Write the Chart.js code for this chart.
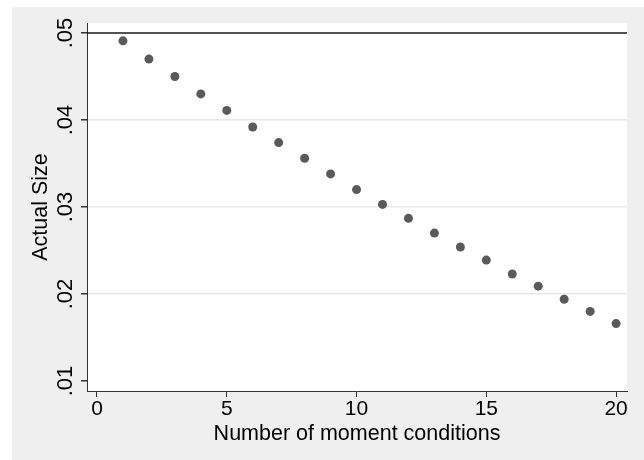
<!DOCTYPE html>
<html>
<head>
<meta charset="utf-8">
<script src="https://cdn.jsdelivr.net/npm/chart.js@4.4.1/dist/chart.umd.min.js"></script>
<style>
    html, body { margin: 0; padding: 0; background: #fff; }
    #wrap { width: 644px; height: 460px; }
</style>
</head>
<body>
<div id="wrap"><canvas id="sizeChart" width="644" height="460"></canvas></div>
<script>
// Number of moment conditions vs. actual size
const conditions = [1, 2, 3, 4, 5, 6, 7, 8, 9, 10, 11, 12, 13, 14, 15, 16, 17, 18, 19, 20];
const actualSize = [0.0491, 0.0470, 0.0450, 0.0430, 0.0411, 0.0392, 0.0374, 0.0356, 0.0338, 0.0320,
                    0.0303, 0.0287, 0.0270, 0.0254, 0.0239, 0.0223, 0.0209, 0.0194, 0.0180, 0.0166];
const xTicks = [0, 5, 10, 15, 20];
const yTicks = [0.01, 0.02, 0.03, 0.04, 0.05];
const yTickLabels = ['.01', '.02', '.03', '.04', '.05'];
const nominalSize = 0.05;

const FONT = '"Liberation Sans", Arial, Helvetica, sans-serif';

// Backgrounds: outer grey frame, white plot region
const backgroundPlugin = {
    id: 'stataBackground',
    beforeDraw(chart) {
        const { ctx, chartArea: a } = chart;
        ctx.save();
        ctx.fillStyle = '#ffffff';
        ctx.fillRect(0, 0, chart.width, chart.height);
        ctx.fillStyle = '#efefef';
        ctx.fillRect(12, 7, chart.width - 12, chart.height - 7);
        ctx.fillStyle = '#ffffff';
        ctx.fillRect(a.left, a.top, a.right - a.left, a.bottom - a.top);
        ctx.restore();
    }
};

// Reference line at the nominal size and the rotated y tick labels
const overlayPlugin = {
    id: 'stataOverlay',
    beforeDatasetsDraw(chart) {
        const { ctx, chartArea: a, scales: { y } } = chart;
        const py = y.getPixelForValue(nominalSize);
        ctx.save();
        ctx.strokeStyle = '#1a1a1a';
        ctx.lineWidth = 1.5;
        ctx.beginPath();
        ctx.moveTo(a.left, py);
        ctx.lineTo(a.right, py);
        ctx.stroke();
        ctx.restore();
    },
    afterDraw(chart) {
        const { ctx, scales: { y } } = chart;
        ctx.save();
        ctx.fillStyle = '#000';
        ctx.font = '22px ' + FONT;
        ctx.textAlign = 'center';
        ctx.textBaseline = 'middle';
        yTicks.forEach((v, i) => {
            ctx.save();
            ctx.translate(66, y.getPixelForValue(v));
            ctx.rotate(-Math.PI / 2);
            ctx.fillText(yTickLabels[i], 0, 0);
            ctx.restore();
        });
        ctx.restore();
    }
};

new Chart(document.getElementById('sizeChart'), {
    type: 'scatter',
    data: {
        datasets: [{
            data: conditions.map((c, i) => ({ x: c, y: actualSize[i] })),
            backgroundColor: '#5a5a5a',
            borderWidth: 0,
            pointRadius: 4.5,
            pointHoverRadius: 4.5
        }]
    },
    options: {
        responsive: false,
        animation: false,
        devicePixelRatio: 1,
        events: [],
        layout: { padding: { left: 0, top: 23, right: 17, bottom: 0 } },
        plugins: { legend: { display: false }, tooltip: { enabled: false } },
        scales: {
            x: {
                type: 'linear',
                min: -0.385,
                max: 20.42,
                afterBuildTicks: (s) => { s.ticks = xTicks.map(v => ({ value: v })); },
                afterFit: (s) => { s.height = 69; },
                grid: { drawOnChartArea: false, tickLength: 6, tickColor: '#333', tickWidth: 1 },
                border: { color: '#333', width: 1 },
                ticks: {
                    padding: 0,
                    color: '#000',
                    font: { family: FONT, size: 21 },
                    callback: (v) => String(v)
                },
                title: {
                    display: true,
                    text: 'Number of moment conditions',
                    color: '#000',
                    font: { family: FONT, size: 21.5 },
                    padding: { top: 0, bottom: 13 }
                }
            },
            y: {
                type: 'linear',
                min: 0.00885,
                max: 0.05115,
                afterBuildTicks: (s) => { s.ticks = yTicks.map(v => ({ value: v })); },
                afterFit: (s) => { s.width = 87; },
                grid: {
                    tickLength: 6,
                    tickColor: '#333',
                    lineWidth: 1.5,
                    color: (c) => (c.tick && c.tick.value > 0.015 && c.tick.value < 0.045) ? '#e8e8e8' : 'rgba(0,0,0,0)'
                },
                border: { color: '#333', width: 1 },
                ticks: { display: false },
                title: {
                    display: true,
                    text: 'Actual Size',
                    color: '#000',
                    font: { family: FONT, size: 21.5 },
                    padding: { top: 28, bottom: 0 }
                }
            }
        }
    },
    plugins: [backgroundPlugin, overlayPlugin]
});
</script>
</body>
</html>
